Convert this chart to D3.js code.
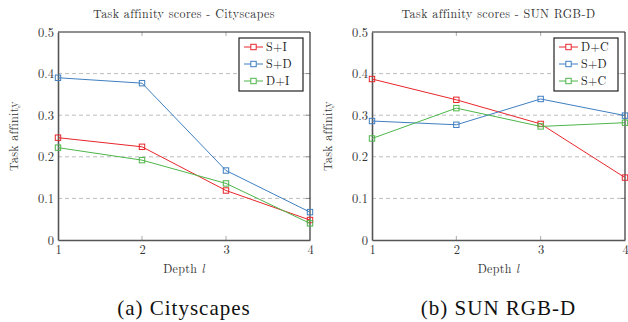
<!DOCTYPE html>
<html><head><meta charset="utf-8">
<script src="https://cdn.jsdelivr.net/npm/d3@7"></script>
<style>body{margin:0;background:#fff}svg{display:block}</style>
</head><body>
<svg id="c" width="628" height="322"></svg>
<script>
const depths = [1, 2, 3, 4];
const yTicks = [0, 0.1, 0.2, 0.3, 0.4, 0.5];
const cityNames = ["S+I", "S+D", "D+I"];
const citySI = [0.246, 0.224, 0.119, 0.048];
const citySD = [0.390, 0.377, 0.167, 0.067];
const cityDI = [0.222, 0.192, 0.136, 0.040];
const sunNames = ["D+C", "S+D", "S+C"];
const sunDC = [0.387, 0.337, 0.279, 0.150];
const sunSD = [0.286, 0.277, 0.339, 0.299];
const sunSC = [0.244, 0.317, 0.273, 0.282];
const colors = ["#e8262b", "#3f7fc1", "#4db64a"];

const svg = d3.select("#c");
const lm = sel => sel.style("font-family", "'Latin Modern Roman'");
const tm = sel => sel.style("font-family", "'Liberation Serif'");

function panel(cfg) {
  const x = d3.scaleLinear().domain([1, 4]).range([cfg.x0, cfg.x1]);
  const y = d3.scaleLinear().domain([0, 0.5]).range([240, 32]);
  const cx = (cfg.x0 + cfg.x1) / 2;
  const g = svg.append("g");
  g.selectAll(".grid").data(yTicks.slice(1, 5)).enter().append("line")
    .attr("x1", cfg.x0).attr("x2", cfg.x1).attr("y1", d => y(d)).attr("y2", d => y(d))
    .attr("stroke", "#bdbdbd").attr("stroke-width", 1).attr("stroke-dasharray", "4,3");
  [2, 3].forEach(v => {
    g.append("line").attr("x1", x(v)).attr("x2", x(v)).attr("y1", 32).attr("y2", 36).attr("stroke", "#aaa");
    g.append("line").attr("x1", x(v)).attr("x2", x(v)).attr("y1", 240).attr("y2", 236).attr("stroke", "#aaa");
  });
  yTicks.slice(1, 5).forEach(v => {
    g.append("line").attr("x1", cfg.x1).attr("x2", cfg.x1 - 4).attr("y1", y(v)).attr("y2", y(v)).attr("stroke", "#888");
  });
  g.append("line").attr("x1", cfg.x0).attr("x2", cfg.x1).attr("y1", 32).attr("y2", 32).attr("stroke", "#222").attr("stroke-width", 1.2);
  g.append("line").attr("x1", cfg.x1).attr("x2", cfg.x1).attr("y1", 32).attr("y2", 240).attr("stroke", "#333").attr("stroke-width", 1.2);
  const ya = g.append("g").attr("transform", `translate(${cfg.x0},0)`)
    .call(d3.axisLeft(y).tickValues(yTicks).tickFormat(d => d === 0 ? "0" : d3.format(".1f")(d)).tickSize(0).tickPadding(4));
  const xa = g.append("g").attr("transform", `translate(0,240)`)
    .call(d3.axisBottom(x).tickValues(depths).tickFormat(d3.format("d")).tickSize(0).tickPadding(5));
  [ya, xa].forEach(a => {
    a.attr("font-family", null);
    a.select(".domain").attr("stroke", "#555").attr("stroke-width", 1.6);
    lm(a.selectAll("text")).attr("font-size", 12.5).attr("fill", "#333");
  });
  lm(g.append("text")).attr("x", cx).attr("y", 17.5).attr("text-anchor", "middle")
    .attr("font-size", 12).attr("letter-spacing", 0.4).attr("fill", "#333").text(cfg.title);
  lm(g.append("text")).attr("transform", `translate(${cfg.x0 - 40},136) rotate(-90)`).attr("text-anchor", "middle")
    .attr("font-size", 12).attr("letter-spacing", 0.3).attr("fill", "#333").text("Task affinity");
  const xl = lm(g.append("text")).attr("x", cx).attr("y", 272.5).attr("text-anchor", "middle")
    .attr("font-size", 12).attr("letter-spacing", 0.3).attr("fill", "#333");
  xl.append("tspan").text("Depth ");
  xl.append("tspan").attr("font-style", "italic").text("l");
  tm(g.append("text")).attr("x", cx).attr("y", 314.5).attr("text-anchor", "start")
    .attr("font-size", 21).attr("letter-spacing", 1).attr("fill", "#111").text(cfg.caption)
    .each(function() {
      const w = this.getComputedTextLength();
      d3.select(this).attr("x", cx - w / 2);
    });
  const line = d3.line().x((d, i) => x(depths[i])).y(d => y(d));
  cfg.series.forEach((s, k) => {
    g.append("path").datum(s).attr("d", line).attr("fill", "none").attr("stroke", colors[k]).attr("stroke-width", 1);
    g.selectAll(null).data(s).enter().append("rect")
      .attr("x", (d, i) => x(depths[i]) - 2.7).attr("y", d => y(d) - 2.7).attr("width", 5.4).attr("height", 5.4)
      .attr("fill", "none").attr("stroke", colors[k]).attr("stroke-width", 1);
  });
  const lx = cfg.x1 - 71, ly = 38;
  g.append("rect").attr("x", lx).attr("y", ly).attr("width", 64).attr("height", 53)
    .attr("fill", "#fff").attr("stroke", "#222").attr("stroke-width", 1.2);
  cfg.names.forEach((n, k) => {
    const yy = ly + 9 + k * 17;
    g.append("line").attr("x1", lx + 5).attr("x2", lx + 24).attr("y1", yy).attr("y2", yy).attr("stroke", colors[k]);
    g.append("rect").attr("x", lx + 14.5 - 2.7).attr("y", yy - 2.7).attr("width", 5.4).attr("height", 5.4)
      .attr("fill", "#fff").attr("stroke", colors[k]);
    lm(g.append("text")).attr("x", lx + 27).attr("y", yy + 4.2).attr("font-size", 12)
      .attr("letter-spacing", 0.3).attr("fill", "#222").text(n);
  });
}

panel({x0: 58, x1: 310, title: "Task affinity scores - Cityscapes", caption: "(a) Cityscapes",
  names: cityNames, series: [citySI, citySD, cityDI]});
panel({x0: 372, x1: 625, title: "Task affinity scores - SUN RGB-D", caption: "(b) SUN RGB-D",
  names: sunNames, series: [sunDC, sunSD, sunSC]});
</script>
</body></html>
